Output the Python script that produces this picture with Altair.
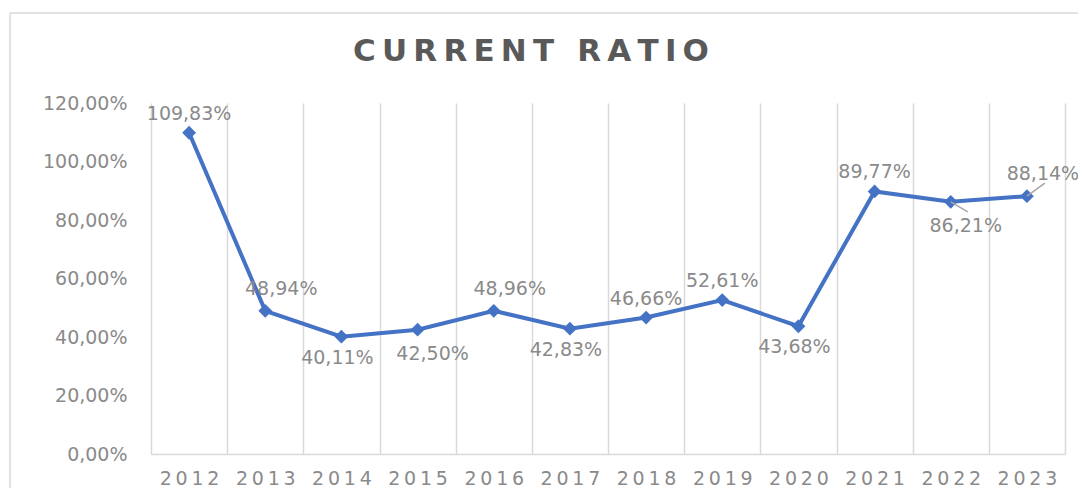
import altair as alt
import pandas as pd

# ---- data ----
years = ["2012", "2013", "2014", "2015", "2016", "2017",
         "2018", "2019", "2020", "2021", "2022", "2023"]
ratios = [1.0983, 0.4894, 0.4011, 0.4250, 0.4896, 0.4283,
          0.4666, 0.5261, 0.4368, 0.8977, 0.8621, 0.8814]
label_side = ["above", "above-right", "below", "below-right", "above-right", "below",
              "above", "above", "below", "above", "below-right", "above-right"]
y_ticks = [0.0, 0.2, 0.4, 0.6, 0.8, 1.0, 1.2]
title_text = "CURRENT RATIO"

W, H = 914, 351
FONT = "DejaVu Sans"
GRAY = "#8a8a8a"
BLUE = "#4472C4"
GRID = "#d9d9d9"
THIN = "\u2009"

df = pd.DataFrame({"year": years, "ratio": ratios, "side": label_side})

x_enc = alt.X(
    "year:N", sort=years,
    scale=alt.Scale(type="band", paddingInner=0, paddingOuter=0),
    axis=alt.Axis(title=None, labelAngle=0, tickBand="extent", grid=True,
                  gridColor=GRID, gridWidth=1.5, domainColor=GRID, domainWidth=1.5,
                  ticks=False, labelFont=FONT, labelFontSize=19, labelColor=GRAY,
                  labelPadding=15,
                  labelExpr="join(split(datum.label, ''), '" + THIN + "')"),
)
y_enc = alt.Y(
    "ratio:Q",
    scale=alt.Scale(domain=[0, 1.2], nice=False),
    axis=alt.Axis(title=None, values=y_ticks, grid=False, domain=False, ticks=False,
                  labelFont=FONT, labelFontSize=19, labelColor=GRAY, labelPadding=24,
                  labelExpr="replace(format(datum.value, '.2%'), '.', ',')"),
)

base = alt.Chart(df).transform_calculate(
    label="replace(format(datum.ratio, '.2%'), '.', ',')"
)

frame_data = alt.Data(values=[{"a": 1}])
frame_top = alt.Chart(frame_data).mark_rule(color=GRID, strokeWidth=1.5).encode(
    x=alt.value(-141), x2=alt.value(960), y=alt.value(-90))
frame_left = alt.Chart(frame_data).mark_rule(color=GRID, strokeWidth=1.5).encode(
    x=alt.value(-141), y=alt.value(-90), y2=alt.value(420))

line = base.mark_line(color=BLUE, strokeWidth=4).encode(x=x_enc, y=y_enc)
points = base.mark_point(shape="diamond", filled=True, size=190, color=BLUE,
                         opacity=1).encode(x=x_enc, y=y_enc)

leaders = []
for yr, dx2, dy2 in [("2022", 17, 10), ("2023", 18, -13)]:
    leaders.append(
        base.transform_filter(alt.datum.year == yr).mark_rule(
            color="#a6a6a6", strokeWidth=1.5, x2Offset=dx2, y2Offset=dy2
        ).encode(x=x_enc, x2=alt.X2("year:N", bandPosition=0.5), y=y_enc, y2="ratio:Q")
    )

side_offsets = {
    "above": (0, -19),
    "above-right": (16, -22),
    "below": (-4, 21),
    "below-right": (15, 24),
}
texts = []
for side, (dx, dy) in side_offsets.items():
    texts.append(
        base.transform_filter(alt.datum.side == side).mark_text(
            font=FONT, fontSize=19, color=GRAY, dx=dx, dy=dy, baseline="middle"
        ).encode(x=x_enc, y=y_enc, text="label:N")
    )

title_spaced = THIN.join(list(title_text))
title = alt.Chart(alt.Data(values=[{"t": title_spaced}])).mark_text(
    font=FONT, fontSize=31, fontWeight="bold", color="#595959",
    align="center", baseline="middle"
).encode(x=alt.value(380), y=alt.value(-51), text="t:N")

chart = alt.layer(frame_top, frame_left, line, points, *leaders, *texts, title).properties(
    width=W, height=H,
    autosize=alt.AutoSizeParams(type="none"),
    padding={"left": 143, "top": 95, "right": 13, "bottom": 34},
).configure_view(stroke=None)

chart.save("out.html", embed_options={"renderer": "svg", "actions": False})
